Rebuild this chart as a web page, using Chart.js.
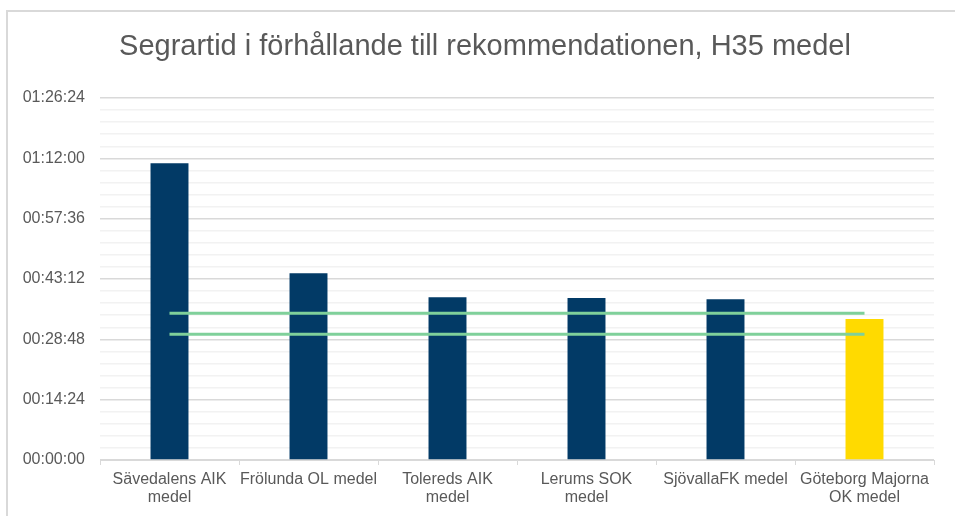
<!DOCTYPE html>
<html>
<head>
<meta charset="utf-8">
<script src="https://cdn.jsdelivr.net/npm/chart.js@4"></script>
<style>
    html, body { margin: 0; padding: 0; background: #fff; }
    #wrap { position: absolute; left: 0; top: 0; width: 955px; height: 516px; }
</style>
</head>
<body>
<div id="wrap"><canvas id="segrarChart" width="955" height="516"></canvas></div>
<script>
const chartTitle = 'Segrartid i förhållande till rekommendationen, H35 medel';
const categories = [
    ["Sävedalens AIK", "medel"],
    "Frölunda OL medel",
    ["Tolereds AIK", "medel"],
    ["Lerums SOK", "medel"],
    "SjövallaFK medel",
    ["Göteborg Majorna", "OK medel"]
];
// segrartider (hh:mm:ss)
const winnerTimes = ["01:10:51", "00:44:35", "00:38:51", "00:38:41", "00:38:23", "00:33:40"];
const barColors = ["#023A66", "#023A66", "#023A66", "#023A66", "#023A66", "#FFDA00"];
// rekommenderat intervall
const recMax = ["00:35:00", "00:35:00", "00:35:00", "00:35:00", "00:35:00", "00:35:00"];
const recMin = ["00:30:00", "00:30:00", "00:30:00", "00:30:00", "00:30:00", "00:30:00"];
const yMax = "01:26:24";
const majorStep = "00:14:24";

function toSec(t) {
    const p = t.split(":").map(Number);
    return p[0] * 3600 + p[1] * 60 + p[2];
}
function toTime(s) {
    s = Math.round(s);
    const h = Math.floor(s / 3600), m = Math.floor((s % 3600) / 60), sec = s % 60;
    return [h, m, sec].map(v => String(v).padStart(2, "0")).join(":");
}

const minorStep = toSec(majorStep) / 5;

// ram + rubrik (rubriken centrerad som i Excel, inte över hela canvas)
const frame = {
    id: 'frame',
    beforeDraw(c) {
        const ctx = c.ctx;
        ctx.save();
        ctx.fillStyle = '#fff';
        ctx.fillRect(0, 0, c.width, c.height);
        ctx.strokeStyle = '#d9d9d9';
        ctx.lineWidth = 2;
        ctx.beginPath();
        ctx.moveTo(7, 516);
        ctx.lineTo(7, 11);
        ctx.lineTo(955, 11);
        ctx.stroke();
        ctx.restore();
    },
    afterDraw(c) {
        const ctx = c.ctx;
        ctx.save();
        ctx.fillStyle = '#595959';
        ctx.font = '29px "Liberation Sans", Arial, sans-serif';
        ctx.textAlign = 'center';
        ctx.textBaseline = 'middle';
        ctx.fillText(chartTitle, 485, 47);
        ctx.restore();
    }
};

const ctx = document.getElementById('segrarChart').getContext('2d');
new Chart(ctx, {
    type: 'bar',
    data: {
        labels: categories,
        datasets: [
            {
                type: 'line',
                label: 'Max',
                data: recMax.map(toSec),
                borderColor: '#7FD09A',
                borderWidth: 3,
                pointRadius: 0,
                fill: false,
                order: 0
            },
            {
                type: 'line',
                label: 'Min',
                data: recMin.map(toSec),
                borderColor: '#7FD09A',
                borderWidth: 3,
                pointRadius: 0,
                fill: false,
                order: 0
            },
            {
                label: 'Segrartid',
                data: winnerTimes.map(toSec),
                backgroundColor: barColors,
                borderWidth: 0,
                barPercentage: 0.273,
                categoryPercentage: 1,
                order: 1
            }
        ]
    },
    options: {
        responsive: false,
        animation: false,
        layout: { padding: { left: 0, right: 21, top: 98, bottom: 0 } },
        plugins: {
            legend: { display: false },
            tooltip: { enabled: false },
            title: { display: false }
        },
        scales: {
            x: {
                grid: {
                    offset: true,
                    drawOnChartArea: false,
                    drawTicks: true,
                    tickLength: 5,
                    color: '#d9d9d9'
                },
                border: { color: '#d9d9d9', width: 1 },
                ticks: {
                    color: '#595959',
                    font: { family: '"Liberation Sans", Arial, sans-serif', size: 16, lineHeight: 1.12 },
                    padding: 6,
                    maxRotation: 0,
                    autoSkip: false
                },
                afterFit(scale) { scale.height = 56; }
            },
            y: {
                min: 0,
                max: toSec(yMax),
                grid: {
                    drawTicks: false,
                    color: c => (c.index % 5 === 0 ? '#d9d9d9' : '#f2f2f2'),
                    lineWidth: 1.5
                },
                border: { display: false },
                ticks: {
                    stepSize: minorStep,
                    autoSkip: false,
                    padding: 15,
                    color: '#595959',
                    font: { family: '"Liberation Sans", Arial, sans-serif', size: 16 },
                    callback: (v, i) => (i % 5 === 0 ? toTime(v) : '')
                },
                afterFit(scale) { scale.width = 100; }
            }
        }
    },
    plugins: [frame]
});
</script>
</body>
</html>
